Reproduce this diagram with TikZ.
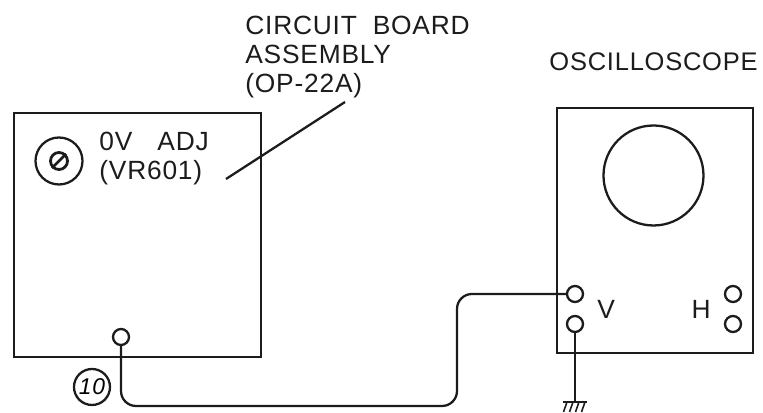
\documentclass[tikz,border=0pt]{standalone}
\usepackage{fontspec}
\setmainfont[LetterSpace=3]{Liberation Sans}
\usetikzlibrary{calc,positioning}
\definecolor{InkGray}{HTML}{1C1C1C}

\begin{document}
\begin{tikzpicture}[
    panel/.style={draw=InkGray, line width=1.3pt, minimum width=#1, inner sep=0pt},
    term/.style={circle, draw=InkGray, line width=1.3pt, fill=white, minimum size=0.32cm, inner sep=0pt},
    lbl/.style={font=\fontsize{15}{16.5}\selectfont, text=InkGray, align=left, inner sep=0pt},
    wire/.style={draw=InkGray, line width=1.3pt, rounded corners=0.3cm},
  ]
    \useasboundingbox (0,0) rectangle (15.26,8.26);

    % Circuit board
    \node[panel=4.94cm, minimum height=4.88cm] (board) at (2.75,3.56) {};
    \node[circle, draw=InkGray, line width=1.3pt, minimum size=0.94cm, inner sep=0pt] (pot) at (1.18,5.04) {};
    \node[circle, draw=InkGray, line width=1.6pt, minimum size=0.34cm, inner sep=0pt] (potin) at (pot) {};
    \draw[line width=1.6pt, color=InkGray] (potin.south west) -- (potin.north east);
    \node[lbl, anchor=west] (adj) at (1.98,5.09) {0V\hspace{0.95em}ADJ\\(VR601)};
    \node[term] (tp) at (2.42,1.52) {};
    \node[circle, draw=InkGray, line width=1.3pt, minimum size=0.72cm, inner sep=0pt,
          font=\fontsize{13}{13}\selectfont\itshape] (ten) at (1.84,0.52) {10};

    % Callout
    \node[lbl, anchor=north west] (cap) at (4.9,7.94) {CIRCUIT\hspace{0.6em}BOARD\\ASSEMBLY\\(OP-22A)};
    \coordinate (capend) at (6.9,6.22);
    \coordinate (capstart) at (4.52,4.68);
    \draw[line width=1.3pt, color=InkGray] (capstart) -- (capend);

    % Oscilloscope
    \node[panel=3.92cm, minimum height=4.9cm] (scope) at (13.1,3.65) {};
    \node[circle, draw=InkGray, line width=1.3pt, minimum size=2.0cm, inner sep=0pt] (screen) at (13.07,4.75) {};
    \node[lbl, anchor=center, font=\fontsize{14.5}{16}\selectfont] (osc) at (13.07,7.02) {OSCILLOSCOPE};
    \node[term] (vhi) at (11.5,2.38) {};
    \node[term] (vlo) at (11.5,1.78) {};
    \node[term] (hhi) at (14.66,2.38) {};
    \node[term] (hlo) at (14.66,1.78) {};
    \node[lbl, right=0.44cm of $(vhi)!0.5!(vlo)$] (v) {V};
    \node[lbl, left=0.44cm of $(hhi)!0.5!(hlo)$] (h) {H};

    % Connections
    \draw[wire] (tp.south) |- (9.14,0.14) |- (vhi.west);
    \coordinate (gnd) at (11.5,0.22);
    \draw[line width=1.3pt, color=InkGray] (vlo.south) -- (gnd);
    \draw[line width=1.1pt, color=InkGray] ($(gnd)+(-0.24,0)$) -- ($(gnd)+(0.24,0)$);
    \foreach \dx in {-0.16,-0.04,0.08,0.2}
      \draw[line width=0.9pt, color=InkGray] ($(gnd)+(\dx,0)$) -- ++(-0.07,-0.2);
  \end{tikzpicture}
\end{document}
